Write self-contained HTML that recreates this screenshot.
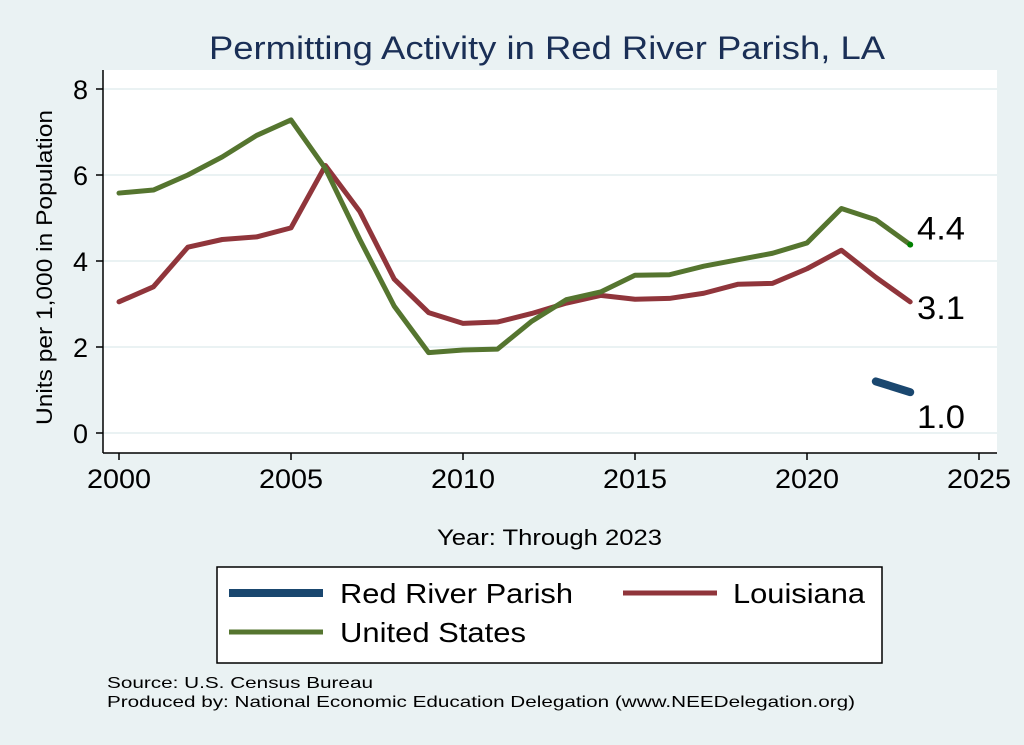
<!DOCTYPE html>
<html><head><meta charset="utf-8"><style>
body{margin:0;background:#eaf2f3;}
svg{display:block;font-family:"Liberation Sans",sans-serif;}
</style></head><body>
<svg id="c" width="1024" height="745">
<rect x="0" y="0" width="1024" height="745" fill="#eaf2f3"/>
<rect x="103" y="70" width="894" height="383" fill="#fff"/>
<text x="209" y="59" font-size="32" fill="#1a2f56" textLength="676" lengthAdjust="spacingAndGlyphs">Permitting Activity in Red River Parish, LA</text>
<text x="437" y="545" font-size="22" textLength="225" lengthAdjust="spacingAndGlyphs">Year: Through 2023</text>
<text transform="translate(52,425) rotate(-90)" font-size="22" textLength="315" lengthAdjust="spacingAndGlyphs">Units per 1,000 in Population</text>
<g id="grid"></g><g id="axes"></g><g id="series"></g>
<rect x="217" y="567" width="665" height="96" fill="#fff" stroke="#000" stroke-width="1.5"/>
<g><line x1="229" y1="593" x2="323" y2="593" stroke="#1a476f" stroke-width="8"/><text x="340" y="603" font-size="28" textLength="233" lengthAdjust="spacingAndGlyphs">Red River Parish</text></g>
<g><line x1="623" y1="593" x2="717" y2="593" stroke="#90353b" stroke-width="5"/><text x="733" y="603" font-size="28" textLength="132" lengthAdjust="spacingAndGlyphs">Louisiana</text></g>
<g><line x1="229" y1="632" x2="323" y2="632" stroke="#55752f" stroke-width="5"/><text x="340" y="642" font-size="28" textLength="186" lengthAdjust="spacingAndGlyphs">United States</text></g>
<text x="107" y="688" font-size="16" textLength="266" lengthAdjust="spacingAndGlyphs">Source: U.S. Census Bureau</text>
<text x="107" y="707" font-size="16" textLength="748" lengthAdjust="spacingAndGlyphs">Produced by: National Economic Education Delegation (www.NEEDelegation.org)</text>
</svg>
<script>
const years=[2000,2001,2002,2003,2004,2005,2006,2007,2008,2009,2010,2011,2012,2013,2014,2015,2016,2017,2018,2019,2020,2021,2022,2023];
const usVals=[5.58,5.65,6.0,6.42,6.92,7.28,6.15,4.5,2.95,1.87,1.93,1.95,2.6,3.1,3.28,3.67,3.68,3.88,4.03,4.18,4.42,5.22,4.96,4.38];
const laVals=[3.05,3.4,4.32,4.5,4.56,4.77,6.22,5.15,3.58,2.8,2.55,2.58,2.78,3.02,3.2,3.11,3.13,3.25,3.46,3.48,3.82,4.25,3.62,3.05];
const rrYears=[2022,2023];
const rrVals=[1.2,0.95];
const xTicks=[2000,2005,2010,2015,2020,2025];
const yTicks=[0,2,4,6,8];
const endLabels=["4.4","3.1","1.0"];
const NS="http://www.w3.org/2000/svg";
const X=v=>119+(v-2000)*34.4;
const Y=v=>433-v*43;
function mk(t,a,p){const e=document.createElementNS(NS,t);for(const k in a)e.setAttribute(k,a[k]);p.appendChild(e);return e;}
const grid=document.getElementById('grid'),axes=document.getElementById('axes'),ser=document.getElementById('series');
mk('line',{x1:103,y1:453,x2:997,y2:453,stroke:'#000','stroke-width':1.5},axes);
mk('line',{x1:103,y1:70,x2:103,y2:453,stroke:'#000','stroke-width':1.5},axes);
yTicks.forEach(v=>{
 const g=mk('line',{x1:103,y1:Y(v),x2:997,y2:Y(v),stroke:'#eaf2f3','stroke-width':2},grid);
 
 
 mk('line',{x1:96,y1:Y(v),x2:103,y2:Y(v),stroke:'#000','stroke-width':1.5},axes);
 const t=mk('text',{x:88,y:Y(v)+10,'font-size':27,'text-anchor':'end'},axes);t.textContent=v;
 
 
});
xTicks.forEach(v=>{
 mk('line',{x1:X(v),y1:453,x2:X(v),y2:460,stroke:'#000','stroke-width':1.5},axes);
 const t=mk('text',{x:X(v)-32,y:488,'font-size':27,textLength:64,lengthAdjust:'spacingAndGlyphs'},axes);t.textContent=v;
 
 
});
function line(xs,vs,col,w,name){
 const p=mk('polyline',{points:xs.map((x,i)=>X(x)+','+Y(vs[i])).join(' '),fill:'none',stroke:col,'stroke-width':w,'stroke-linejoin':'round','stroke-linecap':'round'},ser);
 
 
}
line(years,laVals,'#90353b',5,'louisiana-line');
line(years,usVals,'#55752f',5,'united-states-line');
line(rrYears,rrVals,'#1a476f',8,'red-river-line');
const dot=mk('circle',{cx:X(2023),cy:Y(usVals[23]),r:3,fill:'#008000'},ser);
const lab=[[usVals[23],endLabels[0]],[laVals[23],endLabels[1]],[rrVals[1],endLabels[2]]];
lab.forEach(([v,s],i)=>{
 const dy=i==2?36:i==1?17:-5;
 const t=mk('text',{x:917,y:Y(v)+dy,'font-size':32,textLength:48,lengthAdjust:'spacingAndGlyphs'},ser);t.textContent=s;
 
 
});
</script>
</body></html>
